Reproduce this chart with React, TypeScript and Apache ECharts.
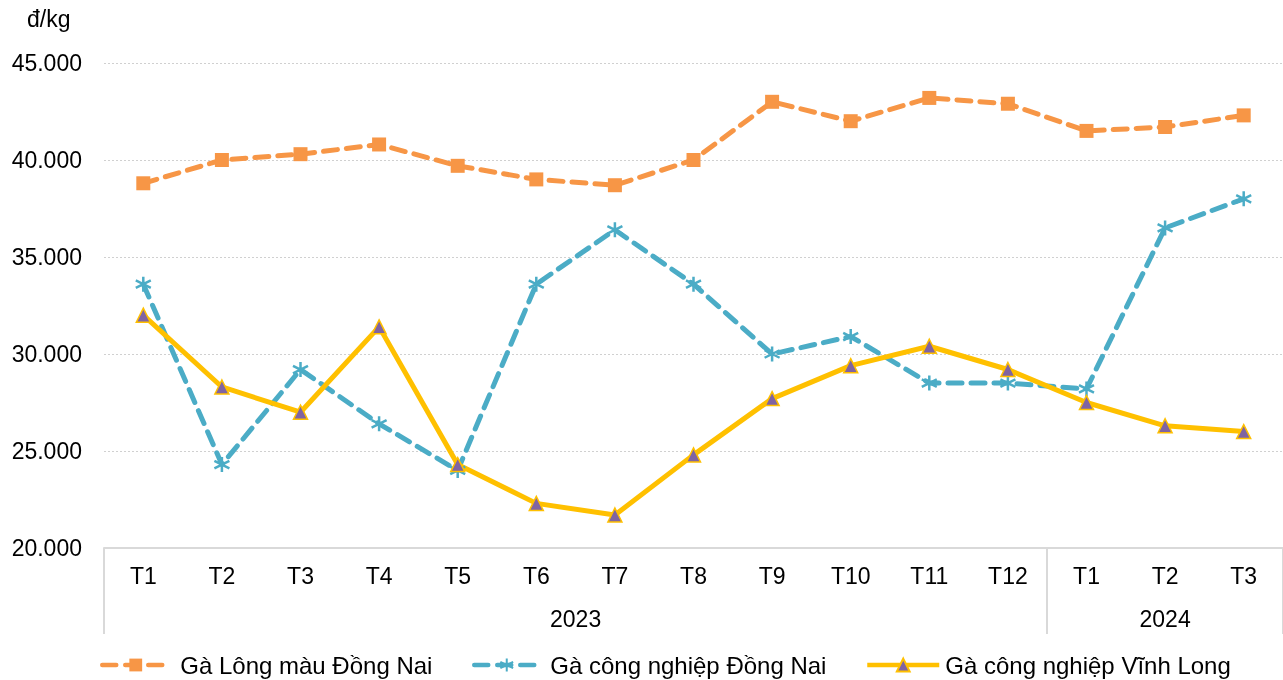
import React, { useEffect, useRef } from "react";
import * as echarts from "echarts";

const months = ["T1", "T2", "T3", "T4", "T5", "T6", "T7", "T8", "T9", "T10", "T11", "T12", "T1", "T2", "T3"];
const years = ["2023", "2024"];
const seriesNames = ["Gà Lông màu Đồng Nai", "Gà công nghiệp Đồng Nai", "Gà công nghiệp Vĩnh Long"];
const gaLongMauDongNai = [38800, 40000, 40300, 40800, 39700, 39000, 38700, 40000, 43000, 42000, 43200, 42900, 41500, 41700, 42300];
const gaCongNghiepDongNai = [33600, 24300, 29200, 26400, 24000, 33600, 36400, 33600, 30000, 30900, 28500, 28500, 28200, 36500, 38000];
const gaCongNghiepVinhLong = [32000, 28300, 27000, 31400, 24300, 22300, 21700, 24800, 27700, 29400, 30400, 29200, 27500, 26300, 26000];

const FONT = "Liberation Sans, Arial, sans-serif";
const FS = 23;
const asterisk = "path://M0,-5L0,5M-4.33,-2.5L4.33,2.5M-4.33,2.5L4.33,-2.5";

const legendText = { fontSize: 24, color: "#000", fontFamily: FONT };

export default function App() {
  const ref = useRef<HTMLDivElement>(null);
  useEffect(() => {
    const chart = echarts.init(ref.current!, null, { renderer: "svg" });
    chart.setOption({
      animation: false,
      textStyle: { fontFamily: FONT },
      grid: { left: 104, right: -1, top: 63, bottom: 132, containLabel: false },
      graphic: [
        { type: "text", left: 27, top: 7, style: { text: "đ/kg", fontSize: FS, fontFamily: FONT, fill: "#000" } },
      ],
      legend: [
        {
          top: 653, left: 100, padding: 0, itemWidth: 67, itemHeight: 16,
          textStyle: { ...legendText, padding: [0, 0, 0, 6] },
          lineStyle: { width: 4.5 },
          data: [seriesNames[0]],
        },
        {
          top: 653, left: 472, padding: 0, itemWidth: 65, itemHeight: 16,
          textStyle: { ...legendText, padding: [0, 0, 0, 6] },
          lineStyle: { width: 4.5 },
          data: [seriesNames[1]],
        },
        {
          top: 653, left: 865, padding: 0, itemWidth: 72, itemHeight: 16,
          textStyle: { ...legendText, padding: [0, 0, 0, 1] },
          lineStyle: { width: 4.5 },
          data: [seriesNames[2]],
        },
      ],
      xAxis: [
        {
          type: "category",
          data: months,
          boundaryGap: true,
          axisLine: { lineStyle: { color: "#d9d9d9", width: 2 } },
          axisTick: { show: false },
          axisLabel: { fontSize: FS, color: "#000", margin: 16, interval: 0, fontFamily: FONT },
        },
        {
          type: "value",
          min: 0,
          max: 15,
          position: "bottom",
          axisLine: { show: false },
          splitLine: { show: false },
          axisTick: { show: true, customValues: [0, 12, 15], length: 86, lineStyle: { color: "#d9d9d9", width: 2 } },
          axisLabel: {
            customValues: [6, 13.5],
            margin: 59,
            fontSize: FS,
            color: "#000",
            fontFamily: FONT,
            formatter: (v: number) => (v === 6 ? years[0] : v === 13.5 ? years[1] : ""),
          },
        },
      ],
      yAxis: {
        type: "value",
        min: 20000,
        max: 45000,
        interval: 5000,
        axisLine: { show: false },
        axisTick: { show: false },
        axisLabel: {
          fontSize: FS,
          color: "#000",
          margin: 22,
          fontFamily: FONT,
          formatter: (v: number) => v.toString().replace(/\B(?=(\d{3})+(?!\d))/g, "."),
        },
        splitLine: { lineStyle: { color: "#d0d0d0", type: [2, 2], width: 1 } },
      },
      series: [
        {
          name: seriesNames[0],
          type: "line",
          data: gaLongMauDongNai,
          symbol: "rect",
          symbolSize: 14,
          itemStyle: { color: "#F79646" },
          lineStyle: { color: "#F79646", width: 5, type: [14, 9], cap: "round" },
        },
        {
          name: seriesNames[1],
          type: "line",
          data: gaCongNghiepDongNai,
          symbol: asterisk,
          symbolSize: 15,
          itemStyle: { color: "#4BACC6", borderColor: "#4BACC6", borderWidth: 2.5 },
          lineStyle: { color: "#4BACC6", width: 5, type: [14, 9], cap: "round" },
        },
        {
          name: seriesNames[2],
          type: "line",
          data: gaCongNghiepVinhLong,
          symbol: "triangle",
          symbolSize: 14,
          itemStyle: { color: "#8064A2", borderColor: "#FFC000", borderWidth: 1.5 },
          lineStyle: { color: "#FFC000", width: 5 },
        },
      ],
    });
    return () => chart.dispose();
  }, []);
  return <div ref={ref} style={{ position: "fixed", left: 0, top: 0, width: 1283, height: 680 }} />;
}
